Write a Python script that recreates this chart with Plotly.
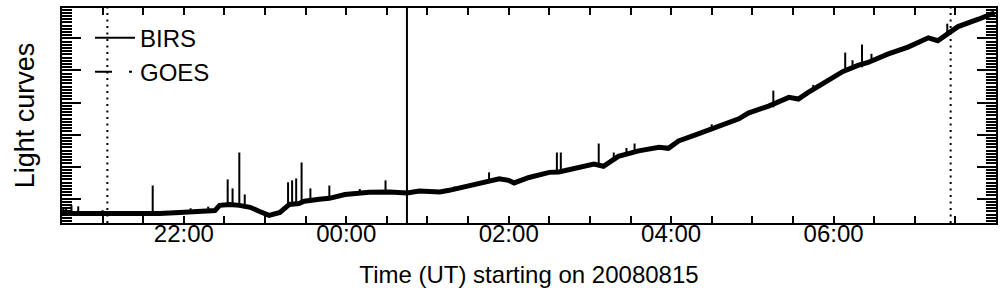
import plotly.graph_objects as go

# ---------------- data ----------------
# BIRS light curve, smoothed level (arbitrary units; major y tick = 1 unit)
birs_time = ["20:30", "20:43", "20:58", "21:13", "21:27:30", "21:42", "21:57", "22:12",
             "22:23", "22:26:30", "22:34", "22:41", "22:49", "22:56", "23:03", "23:11",
             "23:18", "23:25", "23:29", "23:40", "23:47:30", "23:59", "00:17", "00:32",
             "00:45", "00:54", "01:09", "01:16", "01:31", "01:45:30", "01:53", "02:00",
             "02:04", "02:15", "02:30", "02:37", "02:52", "03:03", "03:10", "03:21",
             "03:36", "03:51", "03:58", "04:05:30", "04:20", "04:35", "04:50", "04:57",
             "05:12", "05:27", "05:34", "05:41", "05:56", "06:07", "06:18", "06:25:30",
             "06:40", "06:55", "07:10", "07:17", "07:24:30", "07:32", "07:47", "07:59"]
birs_value = [0.54, 0.54, 0.51, 0.54, 0.53, 0.54, 0.57, 0.60,
              0.63, 0.79, 0.82, 0.79, 0.73, 0.60, 0.48, 0.57,
              0.82, 0.85, 0.92, 0.98, 1.01, 1.13, 1.20, 1.21,
              1.18, 1.24, 1.21, 1.26, 1.40, 1.54, 1.62, 1.57,
              1.49, 1.66, 1.82, 1.83, 1.98, 2.08, 2.01, 2.32,
              2.49, 2.60, 2.57, 2.80, 3.02, 3.27, 3.49, 3.67,
              3.89, 4.16, 4.11, 4.31, 4.69, 4.97, 5.16, 5.25,
              5.51, 5.73, 6.02, 5.93, 6.15, 6.37, 6.60, 6.80]

# short impulsive spikes on top of the BIRS level
spike_time = ["20:31", "20:33", "20:37", "20:42", "21:00", "21:37", "22:05", "22:18",
              "22:32:24", "22:36", "22:41", "22:45", "23:17", "23:20", "23:23", "23:27",
              "23:33:30", "23:47:30", "00:10", "00:29", "01:20", "01:45:30", "02:35:36",
              "02:38:30", "03:06:30", "03:17:36", "03:27", "03:33", "04:30", "05:15:30",
              "05:45", "06:08:36", "06:14", "06:21", "06:28", "07:24"]
spike_base = [0.54, 0.54, 0.54, 0.54, 0.51, 0.54, 0.59, 0.62,
              0.79, 0.79, 0.79, 0.76, 0.76, 0.80, 0.82, 0.88,
              0.95, 1.00, 1.17, 1.20, 1.28, 1.54, 1.83,
              1.83, 2.08, 2.20, 2.40, 2.45, 3.19, 3.85,
              4.40, 4.95, 5.05, 5.10, 5.28, 6.12]
spike_peak = [0.74, 0.70, 0.79, 0.76, 0.64, 1.41, 0.70, 0.75,
              1.60, 1.32, 2.44, 1.13, 1.51, 1.57, 1.63, 2.13,
              1.32, 1.41, 1.30, 1.57, 1.38, 1.82, 2.44,
              2.44, 2.72, 2.44, 2.58, 2.72, 3.32, 4.37,
              4.55, 5.56, 5.32, 5.81, 5.52, 6.46]

# event markers
dotted_lines = ["21:03:30", "07:26:30"]
solid_lines = ["00:44:50"]

x_range = ["20:30", "08:00"]
y_range = [0.24, 6.95]
x_title = "Time (UT) starting on 20080815"
y_title = "Light curves"
legend_names = ["BIRS", "GOES"]


def to_dt(hms):
    h = int(hms.split(":")[0])
    day = "2008-08-15" if h >= 12 else "2008-08-16"
    if hms.count(":") == 1:
        hms = hms + ":00"
    return f"{day} {hms}"


FONT = "Liberation Sans, Arial, Helvetica, sans-serif"

fig = go.Figure()

# main level
fig.add_trace(go.Scatter(x=[to_dt(t) for t in birs_time], y=birs_value, mode="lines",
                         line=dict(color="black", width=5), showlegend=False,
                         hoverinfo="skip"))

# spikes
sx, sy = [], []
for t, b, p in zip(spike_time, spike_base, spike_peak):
    sx += [to_dt(t), to_dt(t), None]
    sy += [b, p, None]
fig.add_trace(go.Scatter(x=sx, y=sy, mode="lines", line=dict(color="black", width=2),
                         showlegend=False, hoverinfo="skip"))

# legend entries
fig.add_trace(go.Scatter(x=[None], y=[None], mode="lines", name=legend_names[0],
                         line=dict(color="black", width=2)))
fig.add_trace(go.Scatter(x=[None], y=[None], mode="lines", name=legend_names[1],
                         line=dict(color="black", width=2, dash="17px,17px,3px,40px")))

for t in dotted_lines:
    fig.add_shape(type="line", x0=to_dt(t), x1=to_dt(t), y0=0, y1=1, yref="paper",
                  line=dict(color="black", width=2, dash="2px,4.5px"))
for t in solid_lines:
    fig.add_shape(type="line", x0=to_dt(t), x1=to_dt(t), y0=0, y1=1, yref="paper",
                  line=dict(color="black", width=2))

fig.update_layout(
    width=1004, height=296,
    margin=dict(l=62, r=6, t=7, b=73),
    paper_bgcolor="white", plot_bgcolor="white",
    font=dict(family=FONT, color="black", size=24),
    legend=dict(x=0.03, y=0.965, xanchor="left", yanchor="top",
                bgcolor="rgba(0,0,0,0)", borderwidth=0,
                font=dict(size=24), itemwidth=40, tracegroupgap=0),
)

fig.update_xaxes(
    type="date", range=[to_dt(x_range[0]), to_dt(x_range[1])],
    tick0=to_dt("22:00"), dtick=7200000, tickformat="%H:%M",
    ticks="inside", ticklen=7, tickwidth=1.5, tickcolor="black",
    minor=dict(dtick=1800000, tick0=to_dt("22:00"), ticks="inside", ticklen=7,
               tickwidth=1.5, tickcolor="black", showgrid=False),
    showline=True, linecolor="black", linewidth=1.5, mirror="allticks",
    showgrid=False, zeroline=False,
    tickfont=dict(size=24), ticklabelstandoff=-12,
    title=dict(text=x_title, font=dict(size=24), standoff=21),
)

fig.update_yaxes(
    range=y_range, tick0=0, dtick=1,
    ticks="inside", ticklen=19, tickwidth=1.5, tickcolor="black",
    minor=dict(dtick=0.1, ticks="inside", ticklen=10, tickwidth=1.5,
               tickcolor="black", showgrid=False),
    showticklabels=False,
    showline=True, linecolor="black", linewidth=1.5, mirror="allticks",
    showgrid=False, zeroline=False,
    title=dict(text=y_title, font=dict(size=27), standoff=18),
)

fig.write_html("out.html")
